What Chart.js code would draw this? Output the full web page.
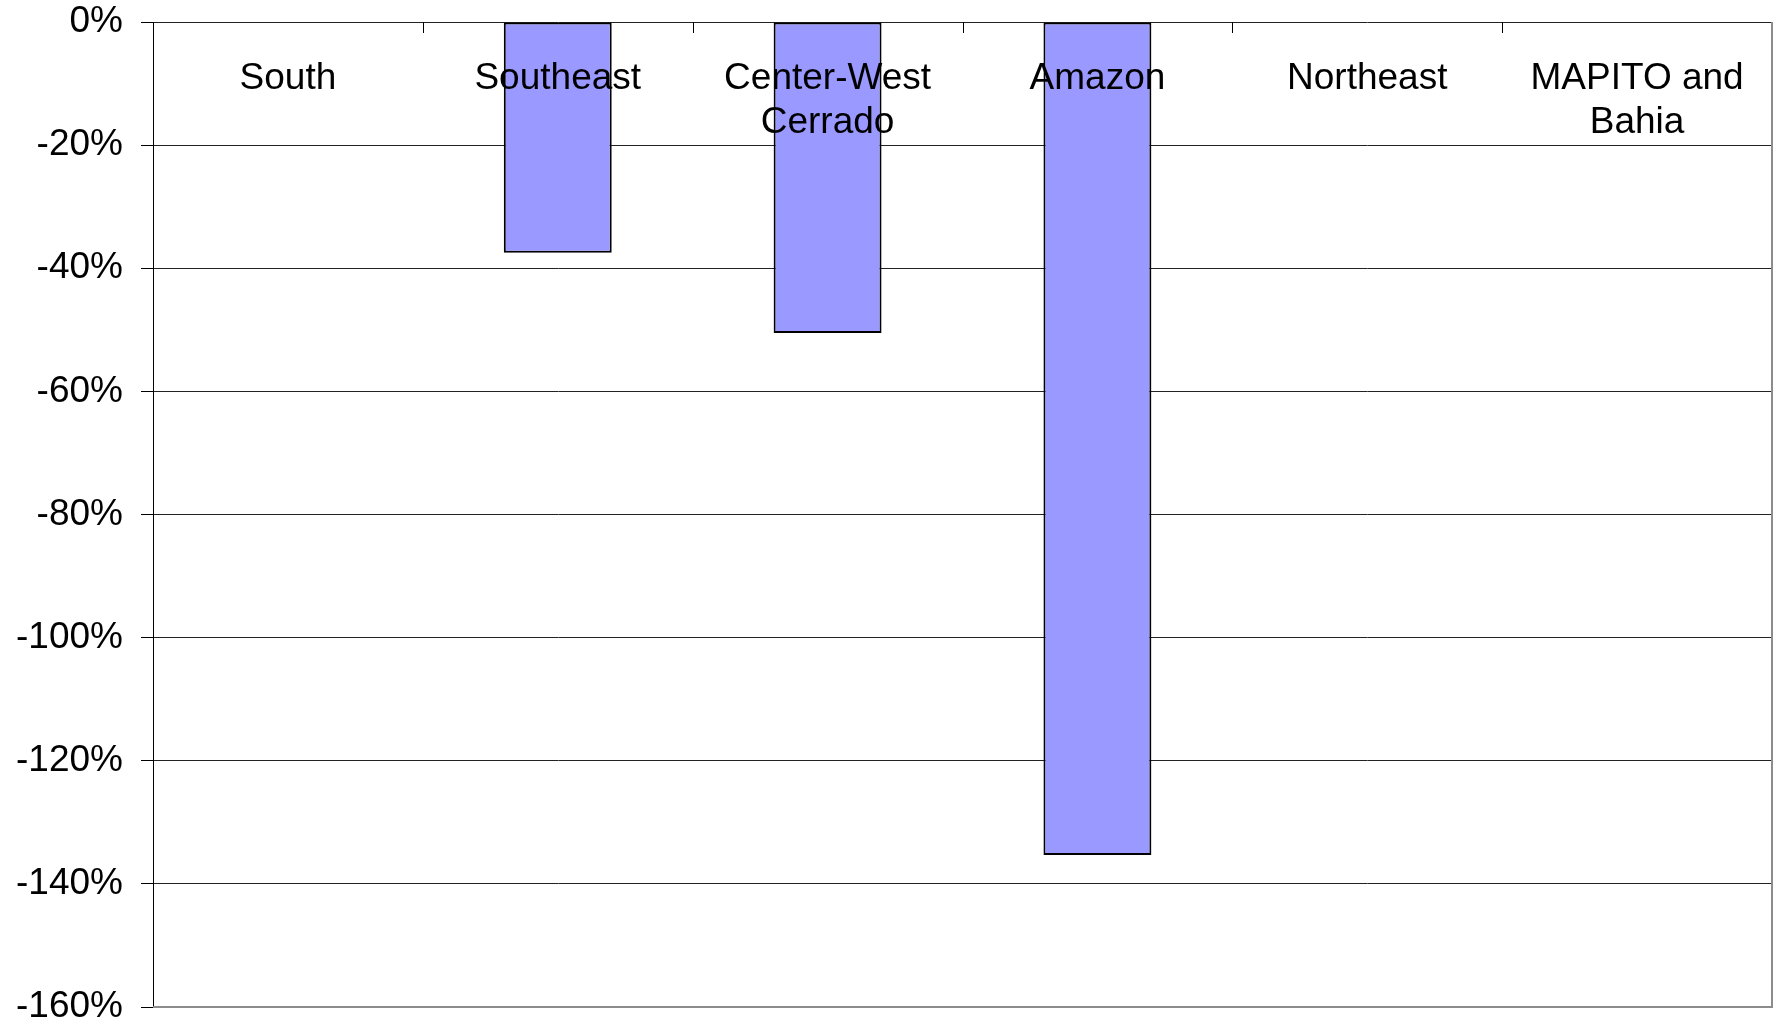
<!DOCTYPE html>
<html>
<head>
<meta charset="utf-8">
<title>Change by region</title>
<script src="https://cdn.jsdelivr.net/npm/chart.js@4.4.1/dist/chart.umd.min.js"></script>
<style>
    html, body { margin: 0; padding: 0; background: #fff; }
    #wrap { width: 1779px; height: 1026px; position: relative; }
</style>
</head>
<body>
<div id="wrap"><canvas id="regionChart"></canvas></div>
<script>
// regions along the top, one bar each
const regions = ['South', 'Southeast', ['Center-West', 'Cerrado'], 'Amazon', 'Northeast', ['MAPITO and', 'Bahia']];
const changes = [0, -37.5, -50.5, -135.3, 0, 0];

// y axis range, in percent
const yMin = -160;
const yMax = 0;
const yStep = 20;

const labelFont = '"Liberation Sans", Arial, sans-serif';

// category names are drawn inside the plot, just under the 0% line
const regionLabels = {
    id: 'regionLabels',
    afterDatasetsDraw(chart) {
        const ctx = chart.ctx;
        const x = chart.scales.x;
        const area = chart.chartArea;
        const half = (x.getPixelForValue(1) - x.getPixelForValue(0)) / 2;

        ctx.save();

        // short tick marks between categories, pointing down
        ctx.strokeStyle = '#000';
        ctx.lineWidth = 1;
        ctx.beginPath();
        for (let i = 1; i < regions.length; i++) {
            const px = Math.round(x.getPixelForValue(i) - half) + 0.5;
            ctx.moveTo(px, area.top);
            ctx.lineTo(px, area.top + 11);
        }
        ctx.stroke();

        // plot frame, right and bottom
        ctx.strokeStyle = '#8c8c8c';
        ctx.lineWidth = 2;
        ctx.beginPath();
        ctx.moveTo(area.right, area.top);
        ctx.lineTo(area.right, area.bottom);
        ctx.lineTo(area.left, area.bottom);
        ctx.stroke();

        ctx.fillStyle = '#000';
        ctx.font = '37px ' + labelFont;
        ctx.textAlign = 'center';
        ctx.textBaseline = 'middle';
        regions.forEach((name, i) => {
            const lines = Array.isArray(name) ? name : [name];
            const px = x.getPixelForValue(i);
            lines.forEach((line, j) => {
                ctx.fillText(line, px, area.top + 57 + j * 44);
            });
        });
        ctx.restore();
    }
};

document.addEventListener('DOMContentLoaded', function() {
    const ctx = document.getElementById('regionChart').getContext('2d');

    window.regionChart = new Chart(ctx, {
        type: 'bar',
        data: {
            labels: regions,
            datasets: [{
                data: changes,
                backgroundColor: '#9999ff',
                borderColor: '#000',
                borderWidth: 2,
                borderSkipped: false,
                barPercentage: 0.4,
                categoryPercentage: 1.0
            }]
        },
        options: {
            responsive: true,
            maintainAspectRatio: false,
            animation: false,
            layout: {
                padding: { top: 22, right: 7, bottom: 19, left: 0 }
            },
            plugins: {
                legend: { display: false },
                tooltip: { enabled: false }
            },
            scales: {
                x: {
                    display: false,
                    offset: true
                },
                y: {
                    min: yMin,
                    max: yMax,
                    afterFit: function(scale) {
                        scale.width = 153;
                        // labels may hang over the ends, padding is set above
                        scale.paddingTop = 0;
                        scale.paddingBottom = 0;
                    },
                    ticks: {
                        stepSize: yStep,
                        padding: 18,
                        color: '#000',
                        font: { family: labelFont, size: 37, lineHeight: 1 },
                        callback: value => value + '%'
                    },
                    grid: {
                        color: '#222',
                        lineWidth: 1,
                        drawTicks: true,
                        tickLength: 12,
                        tickColor: '#000'
                    },
                    border: {
                        display: true,
                        color: '#000',
                        width: 1
                    }
                }
            }
        },
        plugins: [regionLabels]
    });
});
</script>
</body>
</html>
